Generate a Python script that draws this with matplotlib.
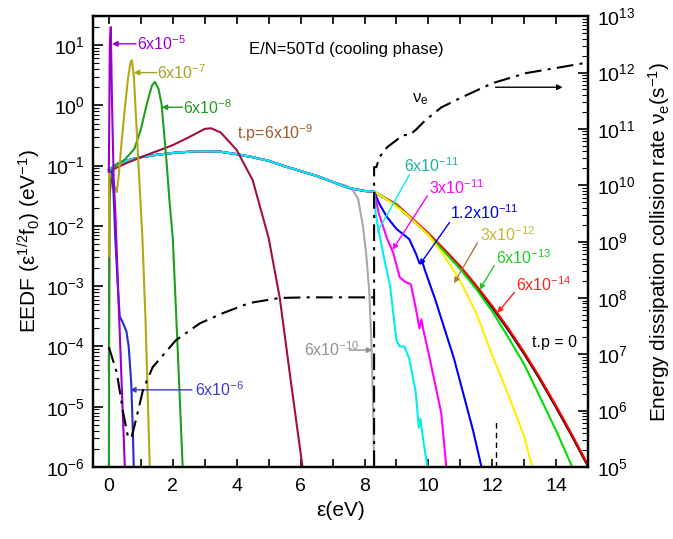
import numpy as np
import matplotlib
matplotlib.use("Agg")
import matplotlib.pyplot as plt
from matplotlib.ticker import LogLocator, MultipleLocator, NullFormatter

plt.rcParams['font.family'] = ['Liberation Sans', 'DejaVu Sans']
plt.rcParams['mathtext.fontset'] = 'custom'
plt.rcParams['mathtext.rm'] = 'Liberation Sans'
plt.rcParams['mathtext.it'] = 'Liberation Sans:italic'

# ---- data (log10 of EEDF) ----
# common body of the late-time curves (0 .. 8.3 eV)
main_x = [0, 0.3, 0.6, 1, 1.5, 2, 2.5, 3, 3.5, 4, 4.5, 5, 5.5, 6, 6.5, 7, 7.5, 8, 8.3]
main_ly = [-1.07, -0.96, -0.91, -0.86, -0.82, -0.79, -0.77, -0.76, -0.77, -0.81,
           -0.86, -0.92, -1.01, -1.09, -1.17, -1.27, -1.37, -1.42, -1.44]

# tails above 8.3 eV
t0_x = [8.3, 9, 9.5, 10, 10.5, 11, 11.5, 12, 12.5, 13, 13.5, 14, 14.5, 15]
t0_ly = [-1.44, -1.66, -1.9, -2.14, -2.42, -2.7, -3.02, -3.36, -3.73, -4.13, -4.56, -5.02, -5.5, -6.0]
t14_ly = [-1.43, -1.64, -1.88, -2.12, -2.39, -2.67, -2.99, -3.33, -3.7, -4.1, -4.53, -4.99, -5.47, -5.97]
t13_x = [8.3, 9, 9.5, 10, 10.5, 11, 11.5, 12, 12.5, 13, 13.5, 14, 14.5]
t13_ly = [-1.43, -1.66, -1.9, -2.15, -2.43, -2.72, -3.05, -3.42, -3.85, -4.3, -4.85, -5.4, -6.0]
t12_x = [8.3, 8.8, 9.3, 9.7, 10, 10.5, 11, 11.5, 12, 12.5, 13, 13.25]
t12_ly = [-1.43, -1.6, -1.8, -2.0, -2.15, -2.5, -2.92, -3.45, -4.15, -4.8, -5.5, -6.0]
t11b_x = [8.3, 8.45, 8.7, 9.0, 9.4, 9.6, 9.72, 9.8, 9.9, 10.2, 10.5, 10.8, 11.1, 11.4, 11.66]
t11b_ly = [-1.43, -1.62, -1.85, -2.05, -2.22, -2.45, -2.62, -2.58, -2.75, -3.2, -3.7, -4.2, -4.8, -5.4, -6.0]
t11m_x = [8.3, 8.45, 8.7, 8.9, 9.1, 9.25, 9.45, 9.6, 9.72, 9.78, 9.85, 10.0, 10.2, 10.4, 10.56]
t11m_ly = [-1.43, -1.8, -2.2, -2.45, -2.85, -2.92, -2.97, -3.35, -3.7, -3.55, -3.75, -4.1, -4.6, -5.1, -6.0]
t11c_x = [8.3, 8.35, 8.45, 8.6, 8.8, 9.0, 9.1, 9.25, 9.4, 9.6, 9.7, 9.75, 9.85, 9.97]
t11c_ly = [-1.43, -1.8, -2.1, -2.5, -3.0, -3.9, -4.0, -4.0, -4.2, -4.75, -5.35, -5.2, -5.6, -6.0]
t10_x = [7.4, 7.6, 7.8, 7.95, 8.05, 8.15, 8.22, 8.27, 8.3]
t10_ly = [-1.33, -1.38, -1.55, -2.0, -2.45, -3.1, -4.0, -5.0, -6.0]

# early-time curves
t9_x = [0, 0.02, 0.1, 0.5, 1, 1.5, 2, 2.5, 3, 3.2, 3.5, 4, 4.5, 5, 5.35, 5.7, 6.06]
t9_ly = [-4.4, -1.5, -1.07, -0.97, -0.86, -0.76, -0.66, -0.53, -0.39, -0.38, -0.45,
         -0.74, -1.24, -2.2, -3.2, -4.6, -6.0]
t8_x = [0, 0.02, 0.2, 0.5, 0.8, 1.0, 1.2, 1.35, 1.44, 1.55, 1.65, 1.8, 1.9, 2.0, 2.15, 2.31]
t8_ly = [-6.0, -1.1, -1.0, -0.9, -0.72, -0.4, 0.05, 0.33, 0.39, 0.28, 0.02, -0.9, -1.6, -2.2, -4.0, -6.0]
t7_x = [0, 0.01, 0.05, 0.15, 0.25, 0.32, 0.4, 0.5, 0.6, 0.68, 0.72, 0.78, 0.85, 0.95, 1.05, 1.15, 1.28]
t7_ly = [-2.5, -1.1, -1.1, -1.3, -1.44, -1.1, -0.6, -0.05, 0.45, 0.72, 0.75, 0.5, -0.2,
         -1.2, -2.2, -3.6, -6.0]
t6_x = [0, 0.1, 0.15, 0.2, 0.28, 0.34, 0.45, 0.55, 0.62, 0.7, 0.75, 0.78]
t6_ly = [-1.1, -1.1, -1.5, -2.2, -3.0, -3.5, -3.62, -3.75, -4.0, -4.6, -5.4, -6.0]
t5_x = [0, 0.03, 0.06, 0.1, 0.15, 0.2, 0.3, 0.4, 0.5]
t5_ly = [-1.1, 1.0, 1.3, 0.0, -1.2, -1.75, -3.2, -4.6, -6.0]

# energy dissipation collision rate (log10 s^-1), right axis
nu_x = [0, 0.25, 0.45, 0.6, 0.71, 0.87, 1.07, 1.37, 2.1, 2.85, 3.57, 4.4, 5.35, 6.2, 8.3,
        np.nan, 8.3, 8.3, 8.37, 8.47, 8.7, 9.0, 9.2, 9.4, 9.6, 9.9, 10.4, 10.97, 12.0, 13.06, 14.1, 14.8, 15.0]
nu_ly = [7.13, 6.67, 5.96, 5.53, 5.52, 5.89, 6.37, 6.77, 7.25, 7.55, 7.73, 7.91, 8.0, 8.01, 8.01,
         np.nan, 5.0, 10.32, 10.32, 10.5, 10.67, 10.8, 10.89, 10.89, 10.98, 11.15, 11.38, 11.54,
         11.81, 11.99, 12.09, 12.16, 12.18]
nu2_x = [12.12, 12.12]
nu2_ly = [5.0, 5.83]

fig = plt.figure(figsize=(6.73, 5.39), dpi=100)
ax = fig.add_axes([0.138, 0.1336, 0.736, 0.8364])
ax2 = ax.twinx()


def p(axis, x, ly, c, lw=1.5, **kw):
    axis.plot(x, 10.0 ** np.asarray(ly, dtype=float), color=c, lw=lw, **kw)


late = [
    ('#101010', t0_x, t0_ly),
    ('#ff0000', t0_x, t14_ly),
    ('#00dd00', t13_x, t13_ly),
    ('#ffee00', t12_x, t12_ly),
    ('#0000ff', t11b_x, t11b_ly),
    ('#ff00ff', t11m_x, t11m_ly),
    ('#00eeee', t11c_x, t11c_ly),
]
# grey (6x10^-10) follows the body then drops
gx = [v for v in main_x if v < 7.4] + t10_x
gly = [v for v, xx in zip(main_ly, main_x) if xx < 7.4] + t10_ly
p(ax, gx, gly, '#a8a8a8')
for c, tx, tly in late:
    p(ax, main_x[:-1] + tx, main_ly[:-1] + tly, c)

p(ax, t9_x, t9_ly, '#a0103c')
p(ax, t8_x, t8_ly, '#1ea01e')
p(ax, t7_x, t7_ly, '#b4a814')
p(ax, t6_x, t6_ly, '#2a2ad0')
p(ax, t5_x, t5_ly, '#9a00cc')

p(ax2, nu_x, nu_ly, 'black', lw=1.5, ls=(0, (8, 3, 1.5, 3)))
p(ax2, nu2_x, nu2_ly, 'black', lw=1.0, ls=(0, (4, 3)))

# ---- axes ----
ax.set_xlim(-0.5, 15)
ax.set_ylim(1e-6, 10 ** 1.48)
ax.set_yscale('log')
ax2.set_yscale('log')
ax2.set_ylim(1e5, 1e13)
ax.xaxis.set_major_locator(MultipleLocator(2))
ax.xaxis.set_minor_locator(MultipleLocator(1))
ax.yaxis.set_major_locator(LogLocator(base=10, numticks=20))
ax.yaxis.set_minor_locator(LogLocator(base=10, subs=np.arange(2, 10), numticks=20))
ax.yaxis.set_minor_formatter(NullFormatter())
ax2.yaxis.set_major_locator(LogLocator(base=10, numticks=20))
ax2.yaxis.set_minor_locator(LogLocator(base=10, subs=np.arange(2, 10), numticks=20))
ax2.yaxis.set_minor_formatter(NullFormatter())

ax.tick_params(axis='x', which='both', direction='in', top=True, labelsize=14, pad=8)
ax.tick_params(axis='x', which='major', length=6, width=1.2)
ax.tick_params(axis='x', which='minor', length=6, width=1.2)
ax.tick_params(axis='y', which='major', direction='in', length=7, width=1.2, labelsize=14, pad=6)
ax.tick_params(axis='y', which='minor', direction='in', length=4, width=0.8)
ax2.tick_params(axis='y', which='major', direction='in', length=7, width=1.2, labelsize=14, pad=6)
ax2.tick_params(axis='y', which='minor', direction='in', length=4, width=0.8)
for a in (ax, ax2):
    for s in a.spines.values():
        s.set_linewidth(1.6)

ax.set_xlabel('ε(eV)', fontsize=15, labelpad=4)
ax.set_ylabel('EEDF (ε$^{1/2}$f$_0$) (eV$^{-1}$)', fontsize=15, labelpad=2)
ax2.set_ylabel('Energy dissipation collision rate ν$_\\mathrm{e}$(s$^{-1}$)', fontsize=15, labelpad=8)


# ---- annotations ----
def lab(txt, xy, c, fs=11.5, ha='left'):
    ax.text(xy[0], xy[1], txt, color=c, fontsize=fs, ha=ha, va='center')


def arr(p0, p1, c, head=True, lw=1.0):
    ax.annotate('', xy=p1, xytext=p0,
                arrowprops=dict(arrowstyle='-|>' if head else '-', color=c, lw=lw,
                                mutation_scale=8, shrinkA=0, shrinkB=0))


lab('6x10$^{-5}$', (0.88, 10.5), '#9a00cc')
arr((0.85, 10.5), (0.1, 10.5), '#9a00cc')
lab('6x10$^{-7}$', (1.52, 3.5), '#a8a020')
arr((1.5, 3.5), (0.78, 3.5), '#a8a020')
lab('6x10$^{-8}$', (2.33, 0.93), '#229922')
arr((2.3, 0.93), (1.65, 0.93), '#229922')
lab('t.p=6x10$^{-9}$', (4.0, 0.35), '#9c5a2a')
ax.text(4.4, 8.5, 'E/N=50Td (cooling phase)', fontsize=12, ha='left', va='center')

lab('6x10$^{-11}$', (9.25, 0.10), '#20b0a0')
arr((9.4, 0.07), (8.4, 0.0079), '#00eeee', head=False)
lab('3x10$^{-11}$', (10.03, 0.043), '#ff00ff')
arr((9.97, 0.0316), (8.875, 0.004), '#ff00ff')
lab('1.2x10$^{-11}$', (10.66, 0.0163), '#0000ee')
arr((10.66, 0.0114), (9.72, 0.00224), '#0000ee')
lab('3x10$^{-12}$', (11.6, 0.0071), '#c0b830')
arr((11.53, 0.0052), (10.8, 0.00112), '#a08040')
lab('6x10$^{-13}$', (12.13, 0.003), '#22cc22')
arr((12.06, 0.0022), (11.6, 0.00087), '#22cc22')
lab('6x10$^{-14}$', (12.75, 0.00105), '#ff2020')
arr((12.69, 0.00079), (12.16, 0.00036), '#ff2020')
lab('t.p = 0', (14.66, 10 ** -3.93), 'black', ha='right')
lab('6x10$^{-10}$', (6.12, 10 ** -4.06), '#909090')
arr((7.53, 10 ** -4.06), (8.25, 10 ** -4.06), '#909090')
lab('6x10$^{-6}$', (2.69, 10 ** -4.72), '#3a3acc')
arr((2.6, 10 ** -4.72), (0.66, 10 ** -4.72), '#3a3acc')
ax.text(9.5, 1.25, 'ν$_\\mathrm{e}$', fontsize=12, ha='left', va='center')
arr((12.1, 2.0), (14.2, 2.0), 'black', lw=1.0)

fig.savefig('out.png', dpi=100)
